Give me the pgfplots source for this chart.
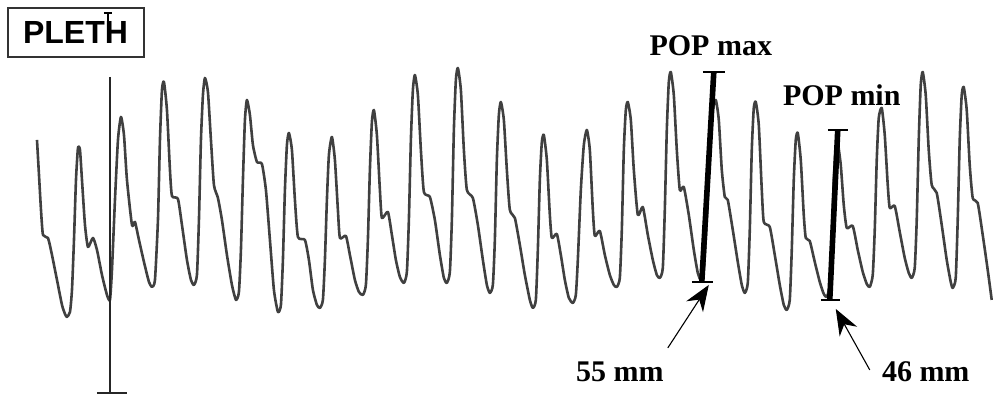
\documentclass[border=0pt]{standalone}
\usepackage{fontspec}
\setmainfont{Liberation Serif}
\newfontfamily\plethfont{Liberation Sans}
\usepackage{pgfplots}
\pgfplotsset{compat=1.18}
\usetikzlibrary{arrows.meta}
\begin{document}
\begin{tikzpicture}
\begin{axis}[
  scale only axis, width=496.5pt, height=198pt,
  xmin=0, xmax=993, ymin=0, ymax=396, y dir=reverse,
  hide axis, clip=false,
]
\path (rel axis cs:0,0) rectangle (rel axis cs:1,1);
% pleth trace
\addplot[line width=1.3pt, color=black!75, line join=round, smooth, tension=0.35] coordinates {
(37,140)(39,175)(41,210)(43,235)(48,238)(52,255)(57,280)(62,305)(65,314)(67,317)(70,312)(72,290)(74,240)(76,180)(78,148)(80,150)(82,180)(85,225)(88,247)(93,238)(97,250)(102,275)(107,295)(110,300)
(112,270)(115,200)(118,140)(121,117)(124,135)(127,180)(132,225)(135,222)(139,240)(144,262)(149,282)(152,287)(155,280)(158,220)(160,140)(162,90)(164,82)(167,110)(170,170)(172,196)(178,199)(182,225)(187,260)(191,280)(194,285)(197,275)(199,220)(201,140)(203,95)(205,78)(208,92)(211,140)(214,185)(218,198)(222,220)(227,255)(232,285)(236,300)(239,292)(241,250)(243,180)(245,120)(247,100)(250,115)(253,145)(257,162)(262,164)(266,190)(270,240)(274,290)(278,312)(281,305)(283,260)(285,190)(287,145)(289,133)(292,150)(295,200)(298,237)(305,240)(309,260)(313,290)(317,305)(320,308)(323,300)(325,260)(327,200)(329,155)(332,137)(335,160)(338,210)(340,238)(346,236)(350,255)(355,280)(359,292)(363,295)(366,285)(368,240)(370,170)(372,122)(374,110)(377,135)(380,190)(382,218)(388,212)(392,235)(396,260)(400,277)(404,283)(407,272)(409,220)(411,140)(413,90)(415,75)(418,95)(421,150)(424,192)(430,197)(435,220)(440,255)(444,278)(447,283)(450,272)(452,220)(454,130)(456,80)(458,68)(461,90)(464,150)(467,190)(473,198)(478,225)(483,260)(487,285)(490,293)(493,285)(495,240)(497,160)(499,115)(501,102)(504,120)(507,170)(510,210)(515,218)(520,245)(525,275)(530,300)(533,308)(536,300)(538,250)(540,180)(542,142)(544,135)(547,160)(550,215)(552,238)(557,234)(561,255)(565,280)(569,298)(573,303)(576,295)(578,260)(581,190)(584,145)(587,130)(590,150)(593,210)(595,236)(600,231)(605,255)(610,275)(614,285)(617,287)(620,278)(622,230)(624,150)(626,110)(628,102)(631,120)(634,170)(638,215)(643,207)(648,235)(653,260)(657,275)(660,278)(663,268)(665,210)(667,130)(669,82)(671,72)(674,95)(677,150)(680,190)(684,187)(689,215)(694,250)(698,273)(701,280)(704,270)(707,220)(710,150)(713,110)(716,100)(719,120)(722,170)(725,197)(728,200)(733,230)(738,262)(742,285)(745,293)(748,283)(750,230)(752,150)(754,108)(756,102)(759,125)(762,190)(764,222)(770,227)(775,255)(780,285)(784,305)(787,310)(790,300)(792,250)(794,180)(796,140)(798,133)(801,160)(804,215)(806,238)(810,241)(815,262)(820,282)(824,294)(827,297)(830,285)(832,240)(834,180)(836,148)(838,143)(841,165)(844,205)(847,228)(853,226)(858,250)(863,272)(867,284)(870,287)(873,275)(875,230)(877,160)(879,118)(882,108)(885,135)(888,185)(890,208)(895,206)(900,232)(905,258)(909,273)(912,278)(915,268)(917,220)(919,140)(921,85)(923,72)(926,95)(929,150)(932,185)(937,193)(942,225)(947,260)(951,282)(953,288)(956,278)(958,220)(960,140)(962,95)(964,87)(967,110)(970,165)(973,198)(978,203)(983,235)(988,270)(992,300)
};
% artefact spike
\addplot[line width=1pt, color=black!85] coordinates {(110,77)(110,393)};
\addplot[line width=1pt, color=black!85] coordinates {(97,393)(127,393)};
% POP max bar
\addplot[line width=2.8pt, color=black] coordinates {(702,282)(714,72)};
\addplot[line width=1.4pt, color=black] coordinates {(703,72)(725,72)};
\addplot[line width=1.4pt, color=black] coordinates {(692,282)(713,282)};
% POP min bar
\addplot[line width=2.8pt, color=black] coordinates {(830,300)(838,130)};
\addplot[line width=1.4pt, color=black] coordinates {(828,130)(848,130)};
\addplot[line width=1.4pt, color=black] coordinates {(821,300)(840,300)};
% arrows
\draw[line width=0.55pt, -{Stealth[length=13pt,width=10pt]}] (668,348) -- (709,285);
\draw[line width=0.55pt, -{Stealth[length=13pt,width=10pt]}] (870,370) -- (836,309);
% labels
\node[font=\fontsize{15}{18}\selectfont\bfseries] at (711,46) {POP max};
\node[font=\fontsize{15}{18}\selectfont\bfseries] at (842,95) {POP min};
\node[font=\fontsize{15}{18}\selectfont\bfseries] at (620,372) {55 mm};
\node[font=\fontsize{15}{18}\selectfont\bfseries] at (926,372) {46 mm};
% PLETH box
\draw[line width=0.6pt, color=black!80] (8,8) rectangle (144,57);
\node[font=\plethfont\fontsize{16}{19}\selectfont\bfseries] at (75.5,33) {PLETH};
\draw[line width=0.9pt] (104,13) -- (112,13);
\draw[line width=0.9pt] (108,13) -- (108,22);
\end{axis}
\end{tikzpicture}
\end{document}
